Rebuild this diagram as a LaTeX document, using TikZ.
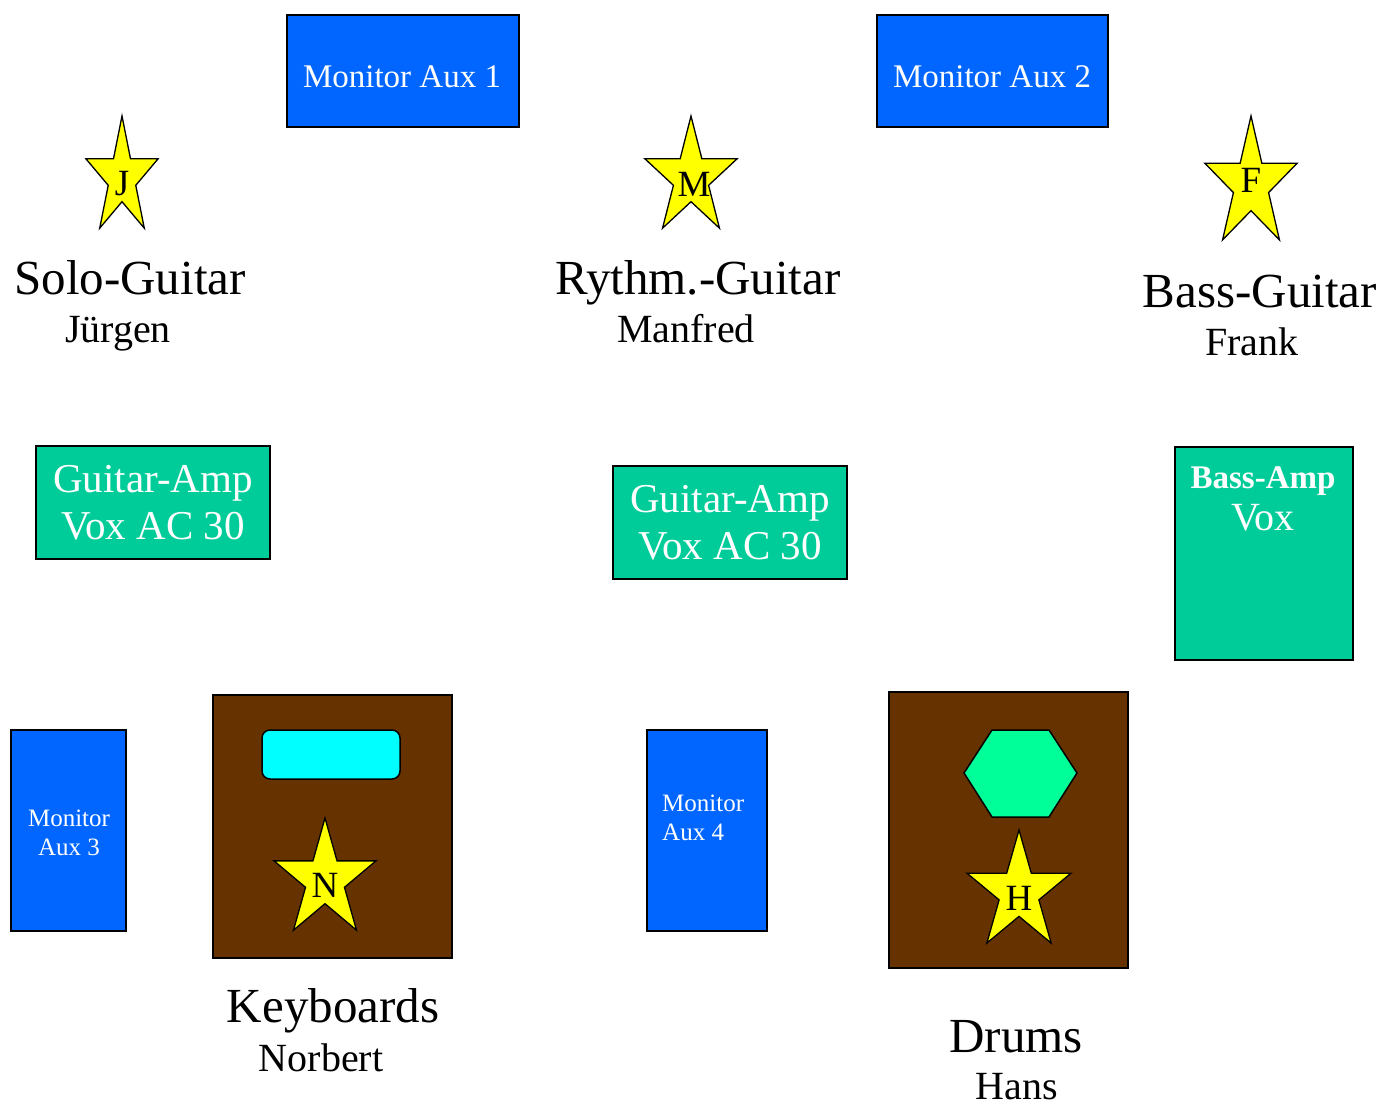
\documentclass[tikz,border=0pt]{standalone}
\usepackage{fontspec}
\setmainfont{Liberation Serif}
\usetikzlibrary{positioning}

\definecolor{monitorblue}{HTML}{0066FF}
\definecolor{ampgreen}{HTML}{00CC99}
\definecolor{riserbrown}{HTML}{663300}
\definecolor{keycyan}{HTML}{00FFFF}
\definecolor{drumgreen}{HTML}{00FF99}
\definecolor{staryellow}{HTML}{FFFF00}

\begin{document}
\begin{tikzpicture}[x=1pt, y=-1pt,
        box/.style={draw=black, line width=1.5pt},
        monitor/.style={box, fill=monitorblue},
        amp/.style={box, fill=ampgreen},
        riser/.style={box, fill=riserbrown},
        starshape/.style={draw=black, line width=1.3pt, fill=staryellow, line join=miter},
        role/.style={font=\fontsize{49}{50}\selectfont, anchor=base, inner sep=0pt},
        player/.style={font=\fontsize{40}{41}\selectfont, anchor=base, inner sep=0pt},
        boxtext/.style={font=\fontsize{41}{42}\selectfont, text=white, anchor=base, inner sep=0pt},
        auxtext/.style={font=\fontsize{33}{34}\selectfont, text=white, anchor=base, inner sep=0pt},
        smalltext/.style={font=\fontsize{25}{26}\selectfont, text=white, anchor=base, inner sep=0pt},
        letter/.style={font=\fontsize{37}{38}\selectfont, anchor=base, inner sep=0pt}
    ]
        \useasboundingbox (0,0) rectangle (1385,1106);

        % monitors at the front
        \draw[monitor] (287,15) rectangle (519,127);
        \draw[monitor] (877,15) rectangle (1108,127);
        \node[auxtext] (aux1) at (402,87) {Monitor Aux 1};
        \node[auxtext] (aux2) at (992,87) {Monitor Aux 2};

        % amps
        \draw[amp] (36,446) rectangle (270,559);
        \draw[amp] (613,466) rectangle (847,579);
        \draw[amp] (1175,447) rectangle (1353,660);
        \node[boxtext] (amp1) at (153,492) {Guitar-Amp};
        \node[boxtext] (amp1-type) at (153,539) {Vox AC 30};
        \node[boxtext] (amp2) at (730,512) {Guitar-Amp};
        \node[boxtext] (amp2-type) at (730,559) {Vox AC 30};
        \node[boxtext, font=\fontsize{33}{34}\selectfont\bfseries] (bassamp) at (1263,488) {Bass-Amp};
        \node[boxtext, font=\fontsize{40}{41}\selectfont] (bassamp-type) at (1263,530) {Vox};

        % monitors at the back
        \draw[monitor] (11,730) rectangle (126,931);
        \draw[monitor] (647,730) rectangle (767,931);
        \node[smalltext] (aux3) at (69,826) {Monitor};
        \node[smalltext] (aux3-nr) at (69,855) {Aux 3};
        \node[smalltext, anchor=base west] (aux4) at (662,811) {Monitor};
        \node[smalltext, anchor=base west] (aux4-nr) at (662,840) {Aux 4};

        % risers
        \draw[riser] (213,695) rectangle (452,958);
        \draw[riser] (889,692) rectangle (1128,968);
        \draw[box, fill=keycyan, rounded corners=8pt] (262,730) rectangle (400,779);
        \draw[box, fill=drumgreen] (964,773) -- (992,730) -- (1049,730) -- (1077,773) -- (1049,817) -- (992,817) -- cycle;

        % stars
        \foreach \name/\cx/\cy/\rx/\ry/\lx/\ly in {J/122/178/37.9/62/122/195, M/691/178/48.4/62/694/196, F/1251/184.5/48.4/68.5/1251/192, N/325/880/53.6/62/325/897, H/1019/892.5/54.7/62.5/1019/910}
        {
            \begin{scope}[shift={(\cx,\cy)}, xscale=\rx, yscale=-\ry]
                \draw[starshape] (90:1) -- (126:0.382) -- (162:1) -- (198:0.382) -- (234:1) -- (270:0.382)
                    -- (306:1) -- (342:0.382) -- (18:1) -- (54:0.382) -- cycle;
            \end{scope}
            \node[letter] (star-\name) at (\lx,\ly) {\name};
        }

        % roles and names
        \node[role] (solo) at (130,294) {Solo-Guitar};
        \node[player] (solo-name) at (118,342) {Jürgen};
        \node[role] (rhythm) at (698,294) {Rythm.-Guitar};
        \node[player] (rhythm-name) at (686,342) {Manfred};
        \node[role] (bass) at (1260,307) {Bass-Guitar};
        \node[player] (bass-name) at (1252,355) {Frank};
        \node[role] (keys) at (333,1022) {Keyboards};
        \node[player] (keys-name) at (321,1071) {Norbert};
        \node[role] (drums) at (1016,1052) {Drums};
        \node[player] (drums-name) at (1017,1099) {Hans};
    \end{tikzpicture}
\end{document}
